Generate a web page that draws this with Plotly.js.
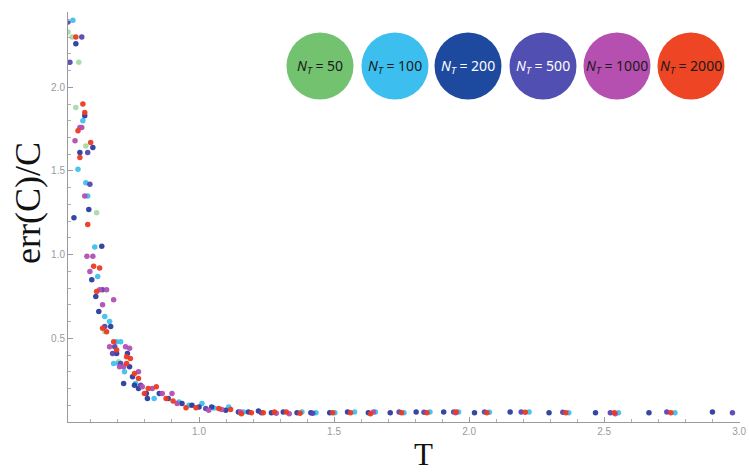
<!DOCTYPE html>
<html>
<head>
<meta charset="utf-8">
<script src="https://cdn.plot.ly/plotly-3.0.1.min.js"></script>
<style>html,body{margin:0;padding:0;background:#fff}#chart{width:749px;height:473px}</style>
</head>
<body>
<div id="chart"></div>
<script>
// ---- data ----
const seriesNames = ["50", "100", "200", "500", "1000", "2000"];
const seriesColors = ["#72c270", "#3cbfee", "#1d4a9e", "#5150b2", "#b550b0", "#ee4524"];
const markerColors = ["#8fd08d", "#3fc0ee", "#2a3c9e", "#5447b2", "#b24fb2", "#ec3a22"];

const T_50 = [0.515, 0.530, 0.555, 0.544, 0.581, 0.621, 0.651, 0.702];
const E_50 = [2.33, 2.30, 2.15, 1.88, 1.65, 1.25, 0.54, 0.36];

const T_100 = [0.533, 0.570, 0.552, 0.581, 0.588, 0.614, 0.625, 0.651, 0.669, 0.695, 0.710, 0.684, 0.702, 0.724, 0.765, 0.834, 0.926, 0.963, 1.011, 1.055, 1.110, 1.165, 1.381, 1.433, 1.503, 1.576, 1.653, 1.759, 1.855, 1.961, 2.075, 2.222, 2.369, 2.553, 2.762];
const E_100 = [2.40, 1.80, 1.51, 1.43, 1.35, 1.045, 0.87, 0.63, 0.60, 0.48, 0.48, 0.35, 0.35, 0.30, 0.23, 0.14, 0.12, 0.10, 0.11, 0.084, 0.09, 0.06, 0.06, 0.055, 0.055, 0.06, 0.06, 0.055, 0.06, 0.06, 0.058, 0.06, 0.055, 0.055, 0.055];

const T_200 = [0.544, 0.577, 0.607, 0.559, 0.592, 0.537, 0.640, 0.603, 0.618, 0.629, 0.673, 0.695, 0.735, 0.743, 0.721, 0.754, 0.761, 0.776, 0.805, 0.809, 0.853, 0.886, 0.937, 0.974, 1.000, 1.047, 1.099, 1.146, 1.183, 1.220, 1.268, 1.312, 1.363, 1.414, 1.484, 1.550, 1.627, 1.708, 1.804, 1.906, 2.020, 2.152, 2.296, 2.468, 2.666, 2.901];
const E_200 = [2.26, 1.83, 1.64, 1.61, 1.27, 1.22, 1.05, 0.85, 0.75, 0.66, 0.57, 0.41, 0.41, 0.33, 0.23, 0.27, 0.22, 0.20, 0.17, 0.14, 0.17, 0.14, 0.11, 0.10, 0.09, 0.09, 0.07, 0.06, 0.06, 0.065, 0.055, 0.06, 0.055, 0.055, 0.055, 0.06, 0.055, 0.055, 0.06, 0.06, 0.055, 0.06, 0.055, 0.055, 0.055, 0.06];

const T_500 = [0.515, 0.566, 0.522, 0.588, 0.596, 0.643, 0.651, 0.688, 0.680, 0.710, 0.784, 1.025, 1.231, 1.421, 1.741, 1.833, 1.943, 2.057, 2.193, 2.347, 2.523, 2.732, 2.975];
const E_500 = [2.39, 2.30, 2.15, 1.61, 1.42, 0.79, 0.57, 0.45, 0.41, 0.35, 0.22, 0.08, 0.055, 0.053, 0.06, 0.058, 0.06, 0.06, 0.06, 0.058, 0.055, 0.06, 0.055];

const T_1000 = [0.566, 0.559, 0.541, 0.577, 0.585, 0.607, 0.596, 0.632, 0.658, 0.684, 0.643, 0.669, 0.728, 0.743, 0.706, 0.721, 0.776, 0.790, 0.827, 0.864, 0.900, 0.919, 1.036, 1.084, 1.154, 1.286, 1.334, 1.646, 1.950, 2.541];
const E_1000 = [1.76, 1.76, 1.68, 1.35, 0.99, 0.99, 0.90, 0.79, 0.79, 0.73, 0.70, 0.45, 0.45, 0.44, 0.33, 0.33, 0.30, 0.21, 0.20, 0.17, 0.17, 0.11, 0.07, 0.075, 0.06, 0.053, 0.05, 0.06, 0.055, 0.05];

const T_2000 = [0.544, 0.570, 0.577, 0.552, 0.599, 0.559, 0.588, 0.610, 0.632, 0.621, 0.643, 0.658, 0.684, 0.695, 0.732, 0.746, 0.732, 0.761, 0.776, 0.812, 0.798, 0.842, 0.878, 0.904, 0.952, 0.989, 1.073, 1.117, 1.157, 1.194, 1.238, 1.279, 1.323, 1.374, 1.495, 1.561, 1.635, 1.750, 1.844, 1.952, 2.066, 2.208, 2.358, 2.538, 2.747];
const E_2000 = [2.30, 1.90, 1.85, 1.74, 1.67, 1.58, 1.18, 0.93, 0.92, 0.78, 0.56, 0.54, 0.48, 0.43, 0.39, 0.38, 0.35, 0.29, 0.26, 0.20, 0.17, 0.21, 0.14, 0.125, 0.085, 0.085, 0.08, 0.075, 0.05, 0.055, 0.055, 0.06, 0.06, 0.053, 0.055, 0.055, 0.05, 0.055, 0.055, 0.06, 0.055, 0.058, 0.055, 0.055, 0.055];

const xTickVals = [1.0, 1.5, 2.0, 2.5, 3.0];
const xTickText = ["1.0", "1.5", "2.0", "2.5", "3.0"];
const yTickVals = [0.5, 1.0, 1.5, 2.0];
const yTickText = ["0.5", "1.0", "1.5", "2.0"];
const xTitle = "T";
const yTitle = "err(C)/C";

// ---- traces ----
const Ts = [T_50, T_100, T_200, T_500, T_1000, T_2000];
const Es = [E_50, E_100, E_200, E_500, E_1000, E_2000];
const traces = Ts.map((t, i) => ({
  type: "scatter", mode: "markers", x: t, y: Es[i],
  name: "N_T = " + seriesNames[i],
  marker: {size: 5.5, color: markerColors[i], opacity: i === 0 ? 0.75 : 0.95},
  showlegend: false, hoverinfo: "x+y"
}));

// plot-area geometry (pixels) used to place the legend discs
const L = 68, R = 9, TOP = 12, BOT = 51;
const PW = 749 - L - R, PH = 473 - TOP - BOT;

// legend as coloured discs
const legPx = [320, 395, 468, 543, 617, 691];
const legX = legPx.map(p => (p - L) / PW);
const legY = (473 - BOT - 66) / PH;
const darkText = ["#1a1a1a", "#1a1a1a", "#ffffff", "#ffffff", "#1a1a1a", "#1a1a1a"];
const shapes = seriesNames.map((n, i) => ({
  type: "circle", xref: "paper", yref: "paper",
  xsizemode: "pixel", ysizemode: "pixel",
  xanchor: legX[i], yanchor: legY,
  x0: -33.5, x1: 33.5, y0: -33.5, y1: 33.5,
  fillcolor: seriesColors[i], line: {width: 0}, layer: "above"
}));
const annotations = seriesNames.map((n, i) => ({
  xref: "paper", yref: "paper", x: legX[i], y: legY,
  text: "<i>N</i><sub><i>T</i></sub> = " + n, showarrow: false,
  font: {family: "Noto Sans, Open Sans, sans-serif", size: 14, color: darkText[i]},
  xanchor: "center", yanchor: "middle"
}));
annotations.push({
  xref: "paper", yref: "paper", x: (423 - L) / PW, y: -(454 - 422) / PH,
  text: xTitle, showarrow: false, xanchor: "center", yanchor: "middle",
  font: {family: "Liberation Serif, Times New Roman, serif", size: 31, color: "#111"}
});
annotations.push({
  xref: "paper", yref: "paper", x: (28 - L) / PW, y: (422 - 203) / PH,
  text: yTitle, showarrow: false, textangle: -90, xanchor: "center", yanchor: "middle",
  font: {family: "Liberation Serif, Times New Roman, serif", size: 36, color: "#111"}
});

const axisCommon = {
  showgrid: false, zeroline: false, showline: true, linecolor: "#9a9a9a", linewidth: 1,
  ticks: "inside", ticklen: 5, tickcolor: "#9a9a9a", tickwidth: 1,
  ticklabeloverflow: "allow",
  tickfont: {family: "Liberation Sans, Arial, sans-serif", size: 10, color: "#9a9a9a"}
};

const layout = {
  width: 749, height: 473,
  margin: {l: L, r: R, t: TOP, b: BOT},
  paper_bgcolor: "#ffffff", plot_bgcolor: "#ffffff",
  showlegend: false,
  xaxis: Object.assign({}, axisCommon, {
    range: [0.515, 3.003], tickmode: "array", tickvals: xTickVals, ticktext: xTickText,
    minor: {ticks: "inside", ticklen: 3, tickcolor: "#b0b0b0", tickmode: "linear", tick0: 0.5, dtick: 0.1}
  }),
  yaxis: Object.assign({}, axisCommon, {
    range: [0, 2.45], tickmode: "array", tickvals: yTickVals, ticktext: yTickText,
    minor: {ticks: "inside", ticklen: 3, tickcolor: "#b0b0b0", tickmode: "linear", tick0: 0, dtick: 0.1}
  }),
  shapes: shapes,
  annotations: annotations
};

Plotly.newPlot("chart", traces, layout, {displayModeBar: false, staticPlot: true});
</script>
</body>
</html>
